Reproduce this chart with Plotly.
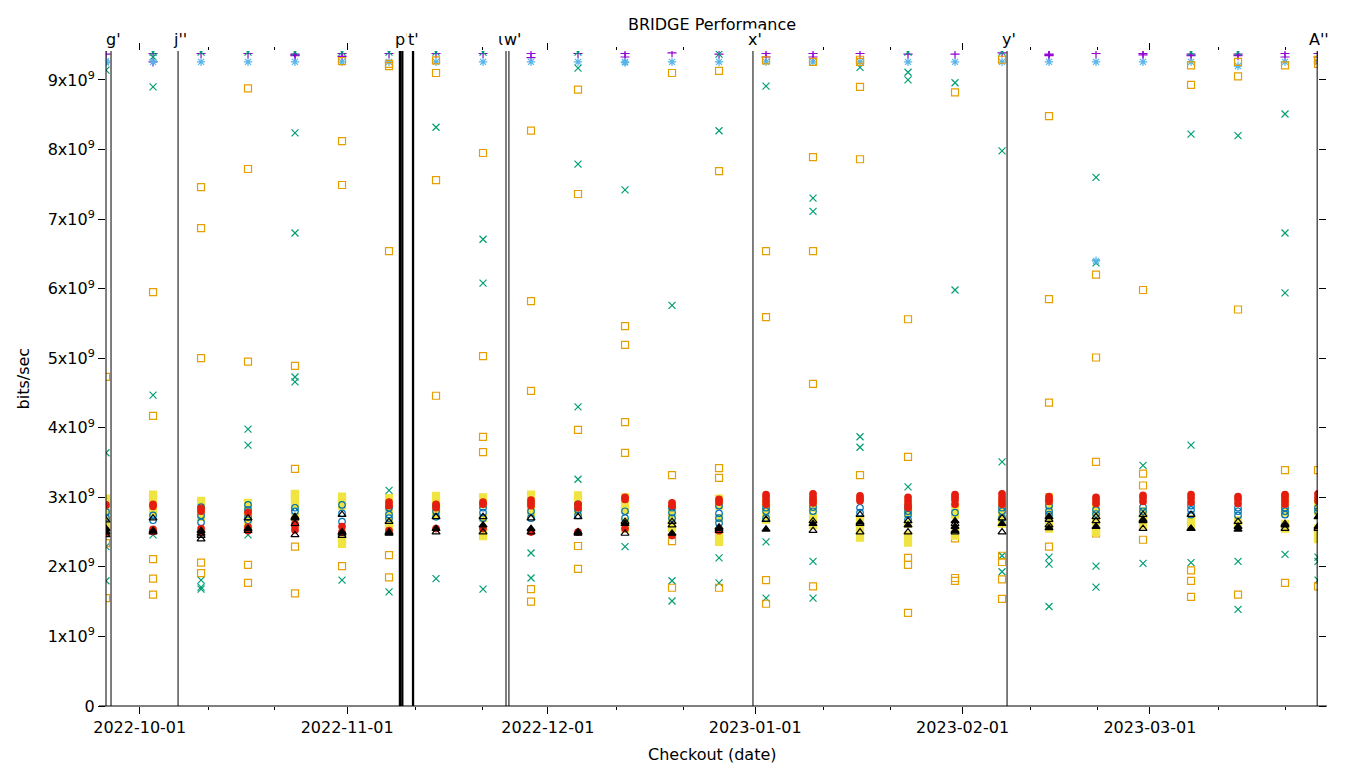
import plotly.graph_objects as go

# checkout dates (one column of points per checkout)
dates = ["2022-09-25 23:00", "2022-10-02 23:45", "2022-10-10 04:00", "2022-10-17 04:30",
         "2022-10-24 05:00", "2022-10-31 05:45", "2022-11-07 06:20", "2022-11-14 07:00",
         "2022-11-21 07:35", "2022-11-28 11:45", "2022-12-05 12:20", "2022-12-12 13:00",
         "2022-12-19 13:35", "2022-12-26 14:15", "2023-01-02 14:50", "2023-01-09 15:25",
         "2023-01-16 16:00", "2023-01-23 20:15", "2023-01-30 20:50", "2023-02-06 21:30",
         "2023-02-13 22:00", "2023-02-20 22:40", "2023-02-27 23:15", "2023-03-07 03:30",
         "2023-03-14 04:05", "2023-03-21 04:40", "2023-03-26 03:00"]

# bits/sec, in units of 1e9, one list per checkout
plus_purple = [[9.37], [9.38, 9.26], [9.38], [9.38], [9.37, 9.36, 9.35], [9.38, 9.34], [9.38],
               [9.38], [9.38], [9.38, 9.32], [9.38], [9.38, 9.33], [9.39], [9.37], [9.38, 9.33],
               [9.38, 9.33], [9.38], [9.37], [9.37], [9.39], [9.37, 9.36, 9.35], [9.38],
               [9.38, 9.36], [9.37, 9.35], [9.37, 9.35], [9.38, 9.33], [9.38, 9.33]]
x_green = [[9.14, 3.64, 2.29, 1.80], [9.40, 9.33, 8.90, 4.47, 2.46], [9.40, 1.81, 1.71, 1.68],
           [9.40, 3.98, 3.75, 2.46], [9.40, 8.24, 6.80, 4.73, 4.66, 2.85], [9.40, 1.81],
           [9.40, 3.10, 1.64], [9.40, 8.32, 3.00, 1.83], [9.40, 6.71, 6.08, 1.68], [2.20, 1.84],
           [9.40, 9.17, 7.79, 4.30, 3.26], [7.42, 2.29], [5.76, 1.80, 1.51], [9.37, 8.27, 2.13, 1.77],
           [8.91, 2.36, 1.55], [7.30, 7.11, 2.08, 1.55], [9.18, 3.87, 3.72], [9.40, 9.11, 9.00, 3.15],
           [8.96, 5.98], [9.40, 7.98, 3.51, 2.16, 1.93], [2.14, 2.04, 1.43], [7.60, 6.37, 2.01, 1.71],
           [3.46, 2.05], [9.40, 8.22, 3.75, 2.06], [9.40, 8.20, 2.08, 1.39],
           [8.51, 6.80, 5.94, 2.18], [2.14, 2.08, 1.81]]
star_blue = [[9.27, 9.25], [9.26], [9.26], [9.26], [9.26], [9.26], [9.26], [9.26], [9.26],
             [9.26], [9.26], [9.26, 9.25], [9.26], [9.26], [9.26], [9.26], [9.26], [9.26],
             [9.26], [9.26], [9.26], [9.26, 6.40], [9.26], [9.26], [9.20], [9.26], [9.26]]
sq_orange = [[4.73, 2.34, 1.55], [5.95, 4.17, 2.11, 1.83, 1.60], [7.46, 6.87, 5.00, 2.06, 1.91],
             [8.88, 7.72, 4.95, 2.03, 1.77], [4.89, 3.41, 3.03, 2.29, 1.62], [9.27, 8.12, 7.49, 2.01],
             [9.23, 9.20, 6.54, 2.17, 1.85], [9.28, 9.10, 7.56, 4.46], [7.95, 5.03, 3.87, 3.65],
             [8.27, 5.82, 4.53, 1.68, 1.50], [8.86, 7.36, 3.97, 2.30, 1.97], [5.46, 5.19, 4.08, 3.64],
             [9.10, 3.32, 2.37, 1.70], [9.13, 7.69, 3.42, 3.28, 1.70], [9.28, 6.54, 5.59, 1.81, 1.47],
             [9.26, 7.89, 6.54, 4.63, 1.72], [9.29, 9.26, 8.90, 7.86, 3.32],
             [5.56, 3.58, 2.13, 2.03, 1.34], [8.82, 2.41, 1.84, 1.80], [9.29, 2.16, 2.07, 1.82, 1.54],
             [8.48, 5.85, 4.36, 2.29], [6.20, 5.01, 3.51, 2.48], [5.98, 3.34, 3.17, 2.39],
             [9.21, 8.93, 1.95, 1.80, 1.57], [9.26, 9.05, 5.70, 1.60], [9.21, 3.39, 1.77],
             [9.29, 9.23, 3.39, 1.72]]
sq_yellow = [[2.98, 2.90, 2.80, 2.70, 2.60, 2.52], [3.04, 2.98, 2.92, 2.85, 2.79],
             [2.95, 2.88, 2.80, 2.72], [2.92, 2.80, 2.70, 2.58], [3.05, 2.98, 2.90, 2.72],
             [3.01, 2.95, 2.88, 2.38, 2.33], [2.99, 2.90, 2.80, 2.65, 2.55], [3.02, 2.94, 2.85, 2.75],
             [3.00, 2.90, 2.70, 2.50, 2.44], [3.04, 2.96, 2.88, 2.78], [3.03, 2.97, 2.90, 2.80],
             [3.00, 2.90, 2.82, 2.65, 2.55], [2.88, 2.78, 2.68, 2.56],
             [2.98, 2.88, 2.70, 2.50, 2.40, 2.36], [2.92, 2.85, 2.76, 2.68], [2.94, 2.85, 2.72, 2.60],
             [2.68, 2.55, 2.42], [2.88, 2.78, 2.62, 2.45, 2.35], [2.86, 2.75, 2.55, 2.45],
             [2.92, 2.82, 2.70, 2.62], [3.00, 2.90, 2.78, 2.65, 2.55], [2.88, 2.78, 2.65, 2.50],
             [2.80, 2.70, 2.60], [2.68, 2.60], [2.67, 2.62], [3.00, 2.90, 2.78, 2.62, 2.55],
             [2.92, 2.80, 2.55, 2.45, 2.40]]
circ_blue = [[2.79, 2.70], [2.74, 2.67], [2.86, 2.74, 2.64], [2.89, 2.82, 2.72, 2.67], [2.85, 2.80],
             [2.89, 2.77, 2.65], [2.85, 2.75, 2.70], [2.88, 2.80, 2.72], [2.85, 2.78, 2.70],
             [2.80, 2.70], [2.90, 2.82, 2.74], [2.80, 2.70], [2.85, 2.78, 2.70],
             [2.88, 2.77, 2.70, 2.63], [2.85, 2.80, 2.70], [2.86, 2.80], [2.85, 2.78],
             [2.86, 2.80, 2.75, 2.68], [2.78], [2.85, 2.80, 2.70], [2.88, 2.80, 2.75], [2.82, 2.76],
             [2.86, 2.80], [2.88, 2.82, 2.75], [2.85, 2.80, 2.74], [2.85, 2.80, 2.75], [2.85, 2.80]]
dot_red = [[2.89, 2.52, 2.48], [2.90, 2.87, 2.54, 2.51], [2.84, 2.80, 2.55, 2.50], [2.78, 2.57, 2.52],
           [2.62, 2.58, 2.53], [2.58, 2.50], [2.93, 2.88, 2.52], [2.90, 2.85, 2.55], [2.93, 2.90, 2.55],
           [2.96, 2.92, 2.88, 2.50], [2.90, 2.85, 2.50], [3.00, 2.97, 2.55], [2.92, 2.88, 2.45],
           [2.97, 2.93, 2.52], [3.04, 3.00, 2.95, 2.90], [3.05, 3.00, 2.96, 2.92], [3.02, 2.98, 2.95],
           [3.00, 2.95, 2.90, 2.85], [3.04, 3.00, 2.96, 2.90], [3.05, 3.00, 2.95, 2.90],
           [3.01, 2.97, 2.94], [3.00, 2.96, 2.91], [3.03, 2.99, 2.94], [3.04, 2.99, 2.93],
           [3.01, 2.97, 2.91], [3.04, 3.00, 2.95, 2.90], [3.05, 3.00, 2.95]]
tri_open = [[2.67, 2.46], [2.70, 2.50], [2.48, 2.45, 2.40], [2.70, 2.52], [2.72, 2.62, 2.46],
            [2.75, 2.48, 2.45], [2.65, 2.50], [2.72, 2.50], [2.72, 2.50], [2.70, 2.50], [2.72, 2.50],
            [2.65, 2.48], [2.65, 2.60], [2.57, 2.52], [2.68], [2.66, 2.52], [2.75, 2.62, 2.50],
            [2.66, 2.50], [2.62, 2.50], [2.70, 2.50], [2.68, 2.60], [2.72, 2.66], [2.75, 2.68, 2.55],
            [2.75, 2.55], [2.65], [2.62, 2.55], [2.55]]
tri_fill = [[2.55, 2.50], [2.52], [2.52], [2.55], [2.70], [2.50], [2.48], [2.55], [2.60], [2.55],
            [2.48], [2.62], [2.48], [2.55], [2.54], [2.62], [2.64], [2.60], [2.66, 2.58, 2.52],
            [2.62], [2.72, 2.56], [2.58], [2.66], [2.55], [2.58, 2.54], [2.60], [2.72, 2.58]]

# release tags drawn as vertical lines
tag_dates = ["2022-09-26 17:00", "2022-10-06 17:30", "2022-11-08 21:30", "2022-11-09 06:00",
             "2022-11-10 20:30", "2022-11-24 18:00", "2022-11-25 04:30", "2022-12-31 16:00",
             "2023-02-07 15:30", "2023-03-26 00:00"]
tag_labels = ["g'", "j''", "", "p'", "t'", "u'", "w'", "x'", "y'", "A''"]

y_ticks = list(range(10))
y_ticktext = ["0"] + ["%dx10<sup>9</sup>" % v for v in y_ticks[1:]]
month_ticks = ["2022-10-01", "2022-11-01", "2022-12-01", "2023-01-01", "2023-02-01", "2023-03-01"]
minor_ticks = ["2022-10-11 05:00", "2022-10-21 05:00", "2022-11-11 05:00", "2022-11-21 05:00",
               "2022-12-11 05:00", "2022-12-21 05:00", "2023-01-11 05:00", "2023-01-21 05:00",
               "2023-02-11 05:00", "2023-02-21 05:00", "2023-03-11 05:00", "2023-03-21 05:00"]

series = [
    (plus_purple, "cross-thin-open", "#9400d3", 6.5),
    (x_green, "x-thin-open", "#009e73", 7),
    (star_blue, "asterisk-open", "#56b4e9", 7),
    (sq_orange, "square-open", "#e69f00", 7),
    (sq_yellow, "square", "#f0e442", 7),
    (circ_blue, "circle-open", "#0072b2", 6.5),
    (dot_red, "circle", "#e51e10", 6.5),
    (tri_open, "triangle-up-open", "black", 7),
    (tri_fill, "triangle-up", "black", 7),
]

fig = go.Figure()
for vals, sym, col, size in series:
    xs, ys = [], []
    for d, col_vals in zip(dates, vals):
        for v in col_vals:
            xs.append(d)
            ys.append(v * 1e9)
    fig.add_trace(go.Scatter(x=xs, y=ys, mode="markers", showlegend=False,
                             marker=dict(symbol=sym, color=col, size=size,
                                         line=dict(color=col, width=1.2))))

thick = {2, 3, 4}
label_shift = {"p'": 0, "t'": 0, "u'": -1, "w'": 4}
for i, (d, lab) in enumerate(zip(tag_dates, tag_labels)):
    fig.add_shape(type="line", xref="x", yref="paper", x0=d, x1=d, y0=0, y1=1,
                  line=dict(color="black", width=2.3 if i in thick else 1), layer="above")
    if lab:
        fig.add_annotation(x=d, y=1, xref="x", yref="paper", text=lab, showarrow=False,
                           xshift=label_shift.get(lab, 2), yshift=12, yanchor="middle",
                           bgcolor="white", borderpad=1, font=dict(size=16, color="black"))

# left border and the bottom axis line (which runs a little past the plot)
fig.add_shape(type="line", xref="paper", yref="paper", x0=0, x1=0, y0=0, y1=1,
              line=dict(color="black", width=1))
fig.add_shape(type="line", xref="paper", yref="paper", x0=-0.0058, x1=1.0074, y0=0, y1=0,
              line=dict(color="black", width=1))

fig.add_annotation(text="bits/sec", xref="paper", yref="paper", x=-0.0677, y=0.5,
                   xanchor="center", yanchor="middle",
                   textangle=-90, showarrow=False, font=dict(size=16, color="black"))
fig.add_annotation(text="Checkout (date)", xref="paper", yref="paper", x=0.5, y=-0.0733,
                   xanchor="center", yanchor="middle",
                   showarrow=False, font=dict(size=16, color="black"))

fig.update_layout(
    width=1360, height=768,
    margin=dict(l=106, r=42, t=51, b=62),
    paper_bgcolor="white", plot_bgcolor="white",
    font=dict(family="DejaVu Sans", size=16, color="black"),
    title=dict(text="BRIDGE Performance", x=0.5, xref="paper", y=1 - 24 / 768,
               yanchor="middle", font=dict(size=16)),
    xaxis=dict(type="date", range=["2022-09-25 23:00", "2023-03-26 03:00"],
               tickmode="array", tickvals=month_ticks, ticktext=month_ticks,
               ticks="outside", ticklen=7, tickcolor="black", mirror="ticks",
               showline=False, showgrid=False, zeroline=False,
               minor=dict(tickvals=minor_ticks, ticks="outside", ticklen=3, tickcolor="black")),
    yaxis=dict(range=[0, 9.416e9], tickmode="array", tickvals=[v * 1e9 for v in y_ticks],
               ticktext=y_ticktext, ticks="outside", ticklen=7, tickcolor="black",
               mirror="ticks", showline=False, showgrid=False, zeroline=False),
)

fig.write_html("out.html", config={"displayModeBar": False},
               post_script="document.body.style.margin='0';document.body.style.overflow='hidden';")
